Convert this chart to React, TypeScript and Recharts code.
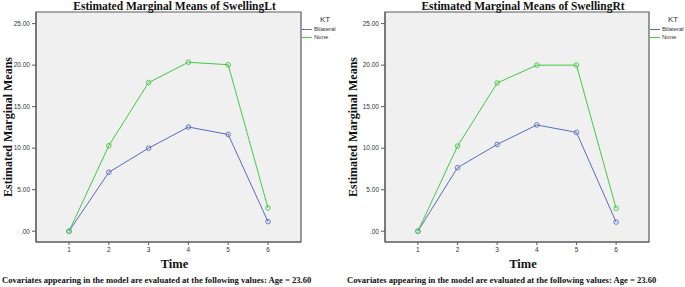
import React from "react";
import { LineChart, Line, XAxis, YAxis, ReferenceArea } from "recharts";

const times = [1, 2, 3, 4, 5, 6];
const ltBilateral = [0, 7.1, 10.0, 12.55, 11.65, 1.15];
const ltNone = [0, 10.3, 17.9, 20.35, 20.05, 2.8];
const rtBilateral = [0, 7.65, 10.45, 12.8, 11.9, 1.1];
const rtNone = [0, 10.25, 17.85, 20.0, 20.0, 2.75];
const yTicks = [0, 5, 10, 15, 20, 25];
const seriesNames = ["Bilateral", "None"];
const footnote =
  "Covariates appearing in the model are evaluated at the following values: Age = 23.60";

const X_DOMAIN: [number, number] = [0.17, 6.83];
const Y_DOMAIN: [number, number] = [-1.3, 26.4];

const BLUE = "#5a6cc4";
const GREEN = "#43c943";
const BORDER = "#5a5a5a";
const SERIF = "'Liberation Serif', 'Times New Roman', serif";
const SANS = "'Liberation Sans', Arial, sans-serif";

const fmtY = (v: number) => (v === 0 ? ".00" : v.toFixed(2));

function LegendBox({ left }: { left: number }) {
  return (
    <div style={{ position: "absolute", left, top: 15, fontFamily: SANS, color: "#333", width: 40 }}>
      <div style={{ fontSize: 8, marginLeft: 18, lineHeight: "10px" }}>KT</div>
      {seriesNames.map((n, i) => (
        <div key={n} style={{ display: "flex", alignItems: "center", height: 8, fontSize: 6 }}>
          <div
            style={{
              width: 10, height: 0, flexShrink: 0, marginRight: 2,
              borderTop: `1.2px solid ${i === 0 ? BLUE : GREEN}`,
            }}
          />
          {n}
        </div>
      ))}
    </div>
  );
}

interface PanelProps {
  left: number;
  width: number;
  plotLeft: number;
  plotRight: number;
  title: string;
  bilateral: number[];
  none: number[];
}

function Panel({ left, width, plotLeft, plotRight, title, bilateral, none }: PanelProps) {
  const data = times.map((t, i) => ({ time: t, Bilateral: bilateral[i], None: none[i] }));
  const yW = 30;
  const plotCenter = (plotLeft + plotRight) / 2 + 6;
  return (
    <div style={{ position: "absolute", left, top: 0, width, height: 287 }}>
      <LineChart
        width={width}
        height={287}
        data={data}
        margin={{ top: 12, right: width - plotRight, left: plotLeft - yW, bottom: 25 }}
      >
        <XAxis
          dataKey="time"
          type="number"
          domain={X_DOMAIN}
          ticks={times}
          height={20}
          stroke={BORDER}
          tickSize={3}
          tick={{ fontSize: 6.5, fill: "#333", fontFamily: SANS }}
        />
        <YAxis
          type="number"
          domain={Y_DOMAIN}
          ticks={yTicks}
          width={yW}
          stroke={BORDER}
          tickSize={4}
          tickFormatter={fmtY}
          tick={{ fontSize: 6.5, fill: "#333", fontFamily: SANS }}
        />
        <ReferenceArea x1={X_DOMAIN[0]} x2={X_DOMAIN[1]} y1={Y_DOMAIN[0]} y2={Y_DOMAIN[1]}
          fill="#f0f0f0" fillOpacity={1} stroke={BORDER} strokeWidth={1.2} />
        <Line dataKey="Bilateral" stroke={BLUE} strokeWidth={1}
          dot={{ r: 2.3, fill: "none", stroke: BLUE, strokeWidth: 0.9 }} isAnimationActive={false} />
        <Line dataKey="None" stroke={GREEN} strokeWidth={1}
          dot={{ r: 2.3, fill: "none", stroke: GREEN, strokeWidth: 0.9 }} isAnimationActive={false} />
      </LineChart>
      <LegendBox left={plotRight + 1} />
      <div
        style={{
          position: "absolute", left: plotCenter - 150, width: 300, top: 0, lineHeight: "12px",
          textAlign: "center", fontFamily: SERIF, fontWeight: "bold", fontSize: 11.5, color: "#111",
        }}
      >
        {title}
      </div>
      <div
        style={{
          position: "absolute", left: 8 - 80, top: 127 - 8, width: 160, height: 16, lineHeight: "16px",
          textAlign: "center", transform: "rotate(-90deg)",
          fontFamily: SERIF, fontWeight: "bold", fontSize: 12, color: "#111",
        }}
      >
        Estimated Marginal Means
      </div>
      <div
        style={{
          position: "absolute", left: plotCenter - 50, width: 100, top: 257, textAlign: "center",
          fontFamily: SERIF, fontWeight: "bold", fontSize: 12.5, color: "#111",
        }}
      >
        Time
      </div>
      <div
        style={{
          position: "absolute", left: 2, top: 275, whiteSpace: "nowrap",
          fontFamily: SERIF, fontWeight: "bold", fontSize: 8.6, color: "#111",
        }}
      >
        {footnote}
      </div>
    </div>
  );
}

export default function App() {
  return (
    <div style={{ position: "absolute", left: 0, top: 0, width: 685, height: 287, background: "#fff", overflow: "hidden" }}>
      <Panel left={0} width={345} plotLeft={36} plotRight={301}
        title="Estimated Marginal Means of SwellingLt" bilateral={ltBilateral} none={ltNone} />
      <Panel left={345} width={340} plotLeft={40} plotRight={304}
        title="Estimated Marginal Means of SwellingRt" bilateral={rtBilateral} none={rtNone} />
    </div>
  );
}
